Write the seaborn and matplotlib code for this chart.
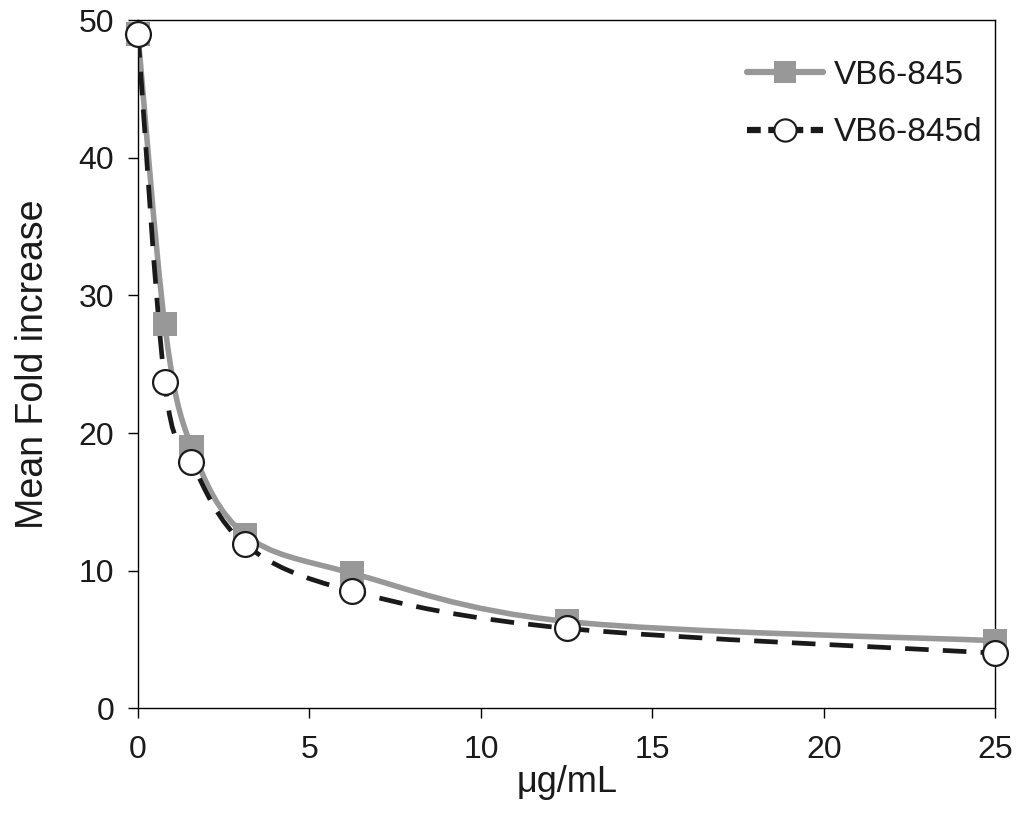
import numpy as np
import matplotlib
matplotlib.use("Agg")
import matplotlib.pyplot as plt
from matplotlib.path import Path
from matplotlib.patches import PathPatch
from matplotlib.lines import Line2D
import seaborn as sns

# --- data ---
conc = [0, 0.78, 1.56, 3.125, 6.25, 12.5, 25]
vb6_845 = [49.0, 27.9, 19.0, 12.6, 9.8, 6.3, 4.9]
vb6_845d = [49.0, 23.7, 17.9, 11.9, 8.5, 5.8, 4.0]

GRAY = "#989898"
INK = "#1a1a1a"

sns.set_theme(style="white")
plt.rcParams['font.family'] = ['Liberation Sans', 'DejaVu Sans']
plt.rcParams['text.color'] = INK
plt.rcParams['axes.labelcolor'] = INK
plt.rcParams['xtick.color'] = INK
plt.rcParams['ytick.color'] = INK


def smooth_path(xs, ys):
    # Excel-like smoothed line: cubic Bezier with Catmull-Rom control points
    pts = np.column_stack([xs, ys]).astype(float)
    verts = [pts[0]]
    codes = [Path.MOVETO]
    n = len(pts)
    for i in range(n - 1):
        p0 = pts[i - 1] if i > 0 else pts[i]
        p1 = pts[i]
        p2 = pts[i + 1]
        p3 = pts[i + 2] if i + 2 < n else pts[i + 1]
        c1 = p1 + (p2 - p0) / 6.0
        c2 = p2 - (p3 - p1) / 6.0
        verts += [c1, c2, p2]
        codes += [Path.CURVE4] * 3
    return Path(verts, codes)


fig = plt.figure(figsize=(10.22, 8.13), dpi=100)
ax = fig.add_axes([0.135, 0.129, 0.839, 0.846])

# curves
ax.add_patch(PathPatch(smooth_path(conc, vb6_845), facecolor="none", edgecolor=GRAY,
                       lw=4.0, zorder=2, capstyle="round"))
ax.add_patch(PathPatch(smooth_path(conc, vb6_845d), facecolor="none", edgecolor=INK,
                       lw=3.4, linestyle=(0, (5, 3)), zorder=3))

# markers
sns.scatterplot(x=conc, y=vb6_845, marker="s", s=300, color=GRAY, edgecolor="none",
                ax=ax, zorder=4, legend=False)
sns.scatterplot(x=conc, y=vb6_845d, marker="o", s=320, color="white", edgecolor=INK,
                linewidth=1.6, ax=ax, zorder=5, legend=False)

ax.set_xlim(0, 25)
ax.set_ylim(0, 50)
ax.set_xticks(range(0, 26, 5))
ax.set_yticks(range(0, 51, 10))
ax.tick_params(axis="both", direction="out", length=7, width=1, color="black",
               labelsize=23, left=True, bottom=True)
ax.tick_params(axis="x", pad=12)
ax.tick_params(axis="y", pad=10)
for side in ["left", "bottom", "top", "right"]:
    ax.spines[side].set_visible(True)
    ax.spines[side].set_color("black")
    ax.spines[side].set_linewidth(1.0)
for c in ax.collections:
    c.set_clip_on(False)

ax.set_xlabel("\u03bcg/mL", fontsize=26, labelpad=0)
ax.set_ylabel("Mean Fold increase", fontsize=27, labelpad=20)

handles = [
    Line2D([], [], color=GRAY, lw=4.5, marker="s", markersize=16, markeredgewidth=0),
    Line2D([], [], color=INK, lw=4.5, linestyle=(0, (2.2, 1.2)), marker="o", markersize=16,
           markerfacecolor="white", markeredgecolor=INK, markeredgewidth=1.5),
]
ax.legend(handles, ["VB6-845", "VB6-845d"], loc="upper right", frameon=False,
          fontsize=24, handlelength=2.3, handletextpad=0.3, labelspacing=0.8,
          borderaxespad=0.0, bbox_to_anchor=(1.0, 0.962))

fig.savefig("out.png", dpi=100)
